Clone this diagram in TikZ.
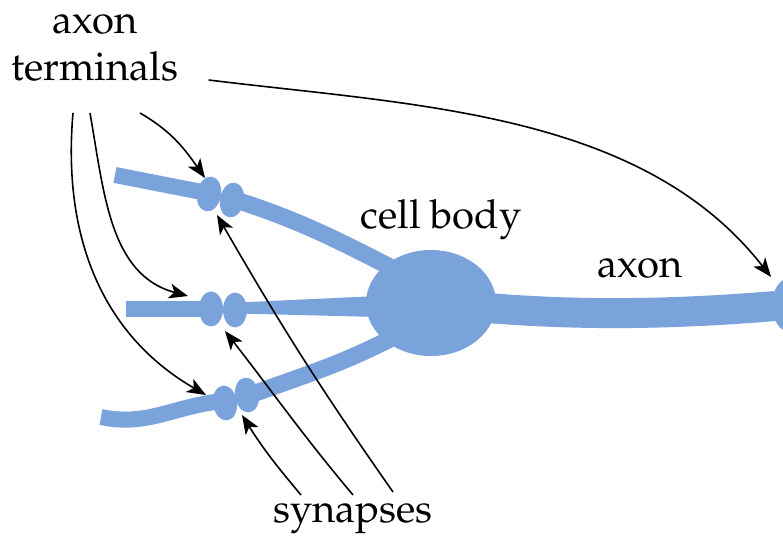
\documentclass[tikz,border=0pt]{standalone}
\usepackage[T1]{fontenc}
\usepackage{mathpazo}
\usetikzlibrary{arrows.meta,shapes.geometric}
\definecolor{nerve}{RGB}{122,163,220}

\begin{document}
\begin{tikzpicture}[x=1pt, y=1pt,
  >={Stealth[length=19pt,width=15pt,inset=5pt]},
  lbl/.style = {font=\fontsize{40}{47}\selectfont, inner sep=0pt},
  fibre/.style = {draw=nerve, line width=16pt},
  knob/.style = {fill=nerve, ellipse, minimum width=24pt, minimum height=35pt, inner sep=0pt},
  pointer/.style = {->, line width=1.6pt}]
\useasboundingbox (0,0) rectangle (783,538);
\clip (0,0) rectangle (783,538);

% incoming fibres and dendrites
\draw[fibre] (115,363) -- (207,345);
\draw[fibre, line width=17pt] (236,338) to [out = -18, in = 153] (400,266);
\draw[fibre] (126,229) -- (205,229);
\fill[nerve] (238,224.5) -- (378,221) -- (378,242) -- (238,235.5) -- cycle;
\draw[fibre] (101,121) to [out = -12, in = 188] (215,136);
\draw[fibre, line width=17pt] (250,143) to [out = 20, in = 207] (392,200);

% synapses
\node[knob, rotate=-10] (k1) at (209,344) {};
\node[knob, rotate=-10] (d1) at (232,338) {};
\node[knob] (k2) at (211,229) {};
\node[knob] (d2) at (235,228) {};
\node[knob, rotate=8] (k3) at (225,135) {};
\node[knob, rotate=8] (d3) at (247,143) {};

% cell body and axon
\draw[fibre, line width=30pt] (488,230) .. controls (585,222) and (680,224) .. (775,232);
\node[fill=nerve, ellipse, minimum width=130pt, minimum height=106pt] (cell) at (431,235) {};
\node[knob, minimum width=36pt, minimum height=54pt] (bulb) at (790,233) {};

% labels
\node[lbl, align=center, anchor=south] (terms) at (95,456) {axon\\terminals};
\node[lbl, anchor=base] (body) at (441,309) {cell body};
\node[lbl, anchor=base] (axon) at (640,260) {axon};
\node[lbl, anchor=base] (syn) at (353,16) {synapses};

% arrow targets
\coordinate (t1) at (771,261);
\coordinate (t2) at (205,360);
\coordinate (t3) at (188,242);
\coordinate (t4) at (206,143);
\coordinate (s1) at (217,323);
\coordinate (s2) at (225,207);
\coordinate (s3) at (242,123);

\draw[pointer] ([shift={(30,2)}]terms.south east) to [out = -7, in = 128, looseness = .9] (t1);
\draw[pointer] ([shift={(45,-31)}]terms.south) to [out = -30, in = 125] (t2);
\draw[pointer] ([shift={(-5,-31)}]terms.south) to [out = -80, in = 165] (t3);
\draw[pointer] ([shift={(-22,-31)}]terms.south) to [out = -95, in = 150] (t4);

\draw[pointer] ([shift={(-52,27)}]syn.base) to [out = 130, in = -58] (s3);
\draw[pointer] ([shift={(0,27)}]syn.base) to [out = 130, in = -52] (s2);
\draw[pointer] ([shift={(40,30)}]syn.base) to [out = 125, in = -60] (s1);
\end{tikzpicture}
\end{document}
